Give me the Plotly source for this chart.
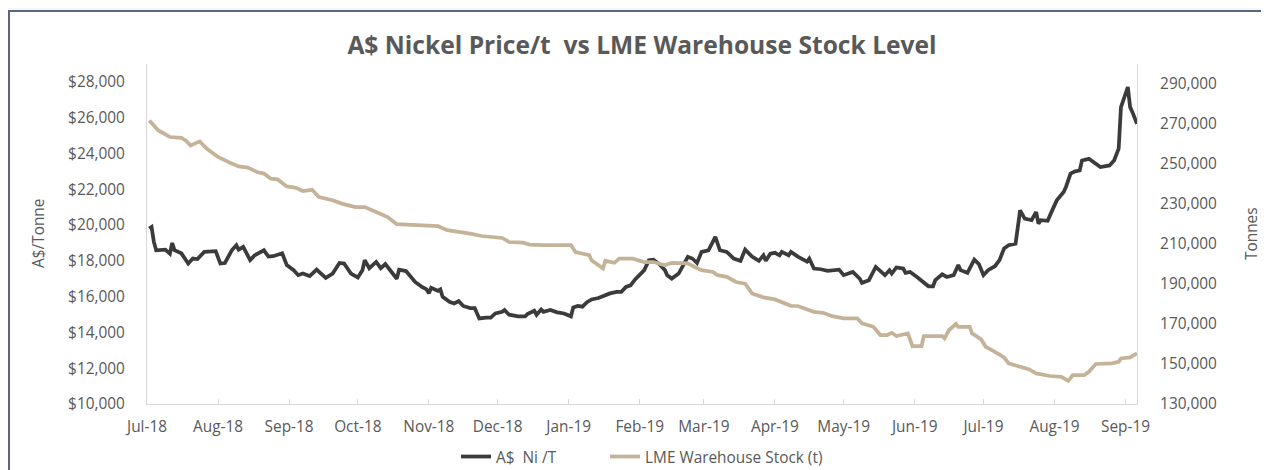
import plotly.graph_objects as go

# ---------------- data ----------------
nickel_dates = [
    "2018-07-02", "2018-07-03", "2018-07-04", "2018-07-05", "2018-07-09", "2018-07-11", "2018-07-12",
    "2018-07-13", "2018-07-16", "2018-07-19", "2018-07-21", "2018-07-23", "2018-07-26", "2018-07-31",
    "2018-08-02", "2018-08-04", "2018-08-07", "2018-08-09", "2018-08-10", "2018-08-12", "2018-08-15",
    "2018-08-17", "2018-08-21", "2018-08-23", "2018-08-25", "2018-08-29", "2018-08-31", "2018-09-03",
    "2018-09-05", "2018-09-07", "2018-09-10", "2018-09-13", "2018-09-17", "2018-09-20", "2018-09-23",
    "2018-09-25", "2018-09-28", "2018-10-01", "2018-10-03", "2018-10-04", "2018-10-06", "2018-10-09",
    "2018-10-11", "2018-10-13", "2018-10-18", "2018-10-19", "2018-10-22", "2018-10-23", "2018-10-26",
    "2018-10-29", "2018-10-31", "2018-11-01", "2018-11-02", "2018-11-05", "2018-11-06", "2018-11-07",
    "2018-11-10", "2018-11-12", "2018-11-14", "2018-11-16", "2018-11-19", "2018-11-21", "2018-11-23",
    "2018-11-26", "2018-11-28", "2018-11-30", "2018-12-03", "2018-12-04", "2018-12-06", "2018-12-10",
    "2018-12-13", "2018-12-14", "2018-12-17", "2018-12-18", "2018-12-20", "2018-12-21", "2018-12-24",
    "2018-12-27", "2018-12-30", "2019-01-02", "2019-01-03", "2019-01-05", "2019-01-07", "2019-01-09",
    "2019-01-11", "2019-01-14", "2019-01-17", "2019-01-19", "2019-01-22", "2019-01-24", "2019-01-26",
    "2019-01-28", "2019-01-30", "2019-02-01", "2019-02-03", "2019-02-05", "2019-02-07", "2019-02-10",
    "2019-02-12", "2019-02-13", "2019-02-15", "2019-02-18", "2019-02-20", "2019-02-22", "2019-02-24",
    "2019-02-26", "2019-02-28", "2019-03-03", "2019-03-06", "2019-03-08", "2019-03-11", "2019-03-14",
    "2019-03-17", "2019-03-19", "2019-03-22", "2019-03-25", "2019-03-27", "2019-03-28", "2019-03-30",
    "2019-04-01", "2019-04-03", "2019-04-04", "2019-04-07", "2019-04-08", "2019-04-11", "2019-04-15",
    "2019-04-16", "2019-04-18", "2019-04-21", "2019-04-24", "2019-04-29", "2019-05-01", "2019-05-05",
    "2019-05-08", "2019-05-09", "2019-05-12", "2019-05-15", "2019-05-19", "2019-05-21", "2019-05-22",
    "2019-05-24", "2019-05-27", "2019-05-28", "2019-05-30", "2019-06-02", "2019-06-05", "2019-06-07",
    "2019-06-09", "2019-06-10", "2019-06-13", "2019-06-15", "2019-06-18", "2019-06-20", "2019-06-21",
    "2019-06-24", "2019-06-27", "2019-06-29", "2019-07-01", "2019-07-03", "2019-07-06", "2019-07-08",
    "2019-07-10", "2019-07-12", "2019-07-15", "2019-07-16", "2019-07-17", "2019-07-19", "2019-07-22",
    "2019-07-24", "2019-07-25", "2019-07-26", "2019-07-29", "2019-07-31", "2019-08-02", "2019-08-05",
    "2019-08-06", "2019-08-08", "2019-08-10", "2019-08-12", "2019-08-13", "2019-08-16", "2019-08-18",
    "2019-08-21", "2019-08-25", "2019-08-27", "2019-08-29", "2019-08-30", "2019-09-02", "2019-09-03",
    "2019-09-04", "2019-09-06",
]
nickel_price = [
    19800, 19890, 19060, 18590, 18630, 18400, 19000,
    18600, 18420, 17850, 18130, 18100, 18500, 18540,
    17850, 17880, 18590, 18870, 18630, 18780, 18040,
    18310, 18590, 18240, 18260, 18420, 17760, 17480,
    17200, 17290, 17150, 17510, 17050, 17290, 17880,
    17850, 17290, 17070, 17480, 18040, 17590, 17940,
    17590, 17820, 17000, 17510, 17430, 17290, 16820,
    16540, 16400, 16180, 16500, 16320, 16400, 15990,
    15710, 15620, 15750, 15480, 15360, 15360, 14780,
    14830, 14830, 15060, 15150, 15250, 14990, 14900,
    14900, 15020, 15210, 14990, 15280, 15150, 15250,
    15120, 15060, 14900, 15400, 15480, 15440, 15690,
    15840, 15920, 16080, 16180, 16270, 16270, 16540,
    16630, 16960, 17200, 17480, 18040, 18070, 17760,
    17480, 17200, 17010, 17290, 17760, 18220, 18130,
    17880, 18500, 18590, 19340, 18590, 18500, 18130,
    18000, 18630, 18240, 18000, 18310, 18000, 18400,
    18450, 18310, 18500, 18310, 18500, 18240, 17960,
    18130, 17570, 17530, 17440, 17510, 17200, 17380,
    17010, 16770, 16920, 17660, 17200, 17480, 17290,
    17630, 17570, 17330, 17380, 17100, 16820, 16580,
    16580, 16920, 17250, 17100, 17200, 17760, 17480,
    17330, 18070, 17820, 17200, 17480, 17700, 18040,
    18690, 18870, 18960, 19890, 20820, 20360, 20270,
    20730, 20080, 20270, 20240, 20820, 21380, 21850,
    22130, 22870, 23000, 23050, 23610, 23700, 23520,
    23240, 23330, 23610, 24270, 26590, 27710, 26590,
    26310, 25660,
]

stock_dates = [
    "2018-07-02", "2018-07-04", "2018-07-06", "2018-07-08", "2018-07-11", "2018-07-16", "2018-07-18",
    "2018-07-20", "2018-07-24", "2018-07-27", "2018-07-30", "2018-08-01", "2018-08-07", "2018-08-10",
    "2018-08-14", "2018-08-18", "2018-08-21", "2018-08-24", "2018-08-27", "2018-08-31", "2018-09-04",
    "2018-09-07", "2018-09-11", "2018-09-14", "2018-09-20", "2018-09-24", "2018-09-30", "2018-10-04",
    "2018-10-09", "2018-10-14", "2018-10-18", "2018-10-24", "2018-11-05", "2018-11-09", "2018-11-16",
    "2018-11-19", "2018-11-24", "2018-12-03", "2018-12-06", "2018-12-12", "2018-12-15", "2018-12-21",
    "2019-01-02", "2019-01-04", "2019-01-10", "2019-01-11", "2019-01-16", "2019-01-17", "2019-01-21",
    "2019-01-23", "2019-01-29", "2019-02-03", "2019-02-07", "2019-02-12", "2019-02-15", "2019-02-22",
    "2019-02-25", "2019-02-28", "2019-03-05", "2019-03-07", "2019-03-11", "2019-03-15", "2019-03-19",
    "2019-03-22", "2019-03-27", "2019-04-01", "2019-04-08", "2019-04-11", "2019-04-18", "2019-04-22",
    "2019-04-26", "2019-05-01", "2019-05-07", "2019-05-09", "2019-05-14", "2019-05-17", "2019-05-20",
    "2019-05-22", "2019-05-24", "2019-05-27", "2019-05-29", "2019-05-31", "2019-06-04", "2019-06-05",
    "2019-06-13", "2019-06-14", "2019-06-16", "2019-06-19", "2019-06-20", "2019-06-25", "2019-06-26",
    "2019-06-30", "2019-07-02", "2019-07-06", "2019-07-10", "2019-07-12", "2019-07-17", "2019-07-21",
    "2019-07-24", "2019-07-30", "2019-08-04", "2019-08-07", "2019-08-09", "2019-08-14", "2019-08-16",
    "2019-08-19", "2019-08-26", "2019-08-29", "2019-08-30", "2019-09-03", "2019-09-06",
]
stock_tonnes = [
    271800, 269300, 266800, 265500, 263500, 263100, 261600,
    259300, 261300, 257700, 255500, 253500, 250200, 248800,
    248200, 246000, 245200, 242700, 242300, 238800, 238100,
    236500, 237100, 233500, 231900, 230200, 228500, 228500,
    226000, 223500, 219900, 219700, 218900, 216900, 216000,
    215200, 214000, 213000, 211000, 210700, 209700, 209400,
    209400, 206000, 204400, 201900, 197800, 201600, 200600,
    202700, 202700, 201000, 201000, 199400, 200600, 200300,
    198500, 196900, 196000, 194400, 193600, 191000, 190200,
    185300, 183300, 182300, 179100, 179000, 176100, 175600,
    173900, 172800, 172800, 170300, 168600, 164500, 164500,
    165600, 164000, 164500, 165300, 159000, 159000, 164000,
    164000, 162800, 167000, 170000, 168600, 168600, 165300,
    162300, 158600, 156100, 153300, 150300, 148600, 147300,
    145300, 144000, 143600, 141600, 144500, 144500, 146100,
    150000, 150300, 151100, 152800, 153300, 155300,
]

series_names = ["A$\u00a0 Ni /T", "LME Warehouse Stock (t)"]
title_text = "A$ Nickel Price/t\u00a0 vs LME Warehouse Stock Level"
left_title = "A$/Tonne"
right_title = "Tonnes"

left_ticks = [10000, 12000, 14000, 16000, 18000, 20000, 22000, 24000, 26000, 28000]
left_ticktext = ["$" + format(v, ",") for v in left_ticks]
right_ticks = [130000, 150000, 170000, 190000, 210000, 230000, 250000, 270000, 290000]
right_ticktext = [format(v, ",") for v in right_ticks]

# ---------------- styling ----------------
FONT = "Open Sans"
TXT = "#595959"
AXIS = "#d9d9d9"
DARK = "#3b3b3b"
TAN = "#c4b398"
FS = 15.4

# the page has an 8px body margin, so the figure is drawn 8px in from the window edge
W, H = 1261, 462

fig = go.Figure()
fig.add_trace(go.Scatter(
    x=nickel_dates, y=nickel_price, name=series_names[0], mode="lines",
    line=dict(color=DARK, width=3.75), yaxis="y", legendwidth=104,
))
fig.add_trace(go.Scatter(
    x=stock_dates, y=stock_tonnes, name=series_names[1], mode="lines",
    line=dict(color=TAN, width=3.75), yaxis="y2",
))

fig.update_layout(
    width=W, height=H,
    margin=dict(l=139, r=132, t=56, b=66, autoexpand=False),
    paper_bgcolor="#f6f7f9",
    plot_bgcolor="white",
    font=dict(family=FONT, size=FS, color=TXT),
    title=dict(text="<b>" + title_text + "</b>", x=0.5, xref="paper", xanchor="center",
               y=1 - 37 / H, yanchor="middle",
               font=dict(family=FONT, size=24.6, color=TXT)),
    showlegend=True,
    legend=dict(orientation="h", x=0.5, xanchor="center",
                yref="container", y=(H - 449) / H, yanchor="middle",
                font=dict(family=FONT, size=FS, color=TXT), bgcolor="rgba(0,0,0,0)",
                traceorder="normal"),
    xaxis=dict(
        type="date", range=["2018-07-01", "2019-09-06"],
        tick0="2018-07-01", dtick="M1", tickformat="%b-%y",
        showline=True, linecolor=AXIS, linewidth=1,
        ticks="inside", ticklen=5, tickcolor=AXIS, tickwidth=1,
        showgrid=False, zeroline=False, ticklabelstandoff=9,
        tickfont=dict(family=FONT, size=FS, color=TXT),
    ),
    yaxis=dict(
        range=[10000, 29000], tickmode="array", tickvals=left_ticks, ticktext=left_ticktext,
        showline=True, linecolor=AXIS, linewidth=1, ticks="",
        showgrid=False, zeroline=False, ticklabelstandoff=18,
        tickfont=dict(family=FONT, size=FS, color=TXT),
    ),
    yaxis2=dict(
        range=[130000, 300000], tickmode="array", tickvals=right_ticks, ticktext=right_ticktext,
        overlaying="y", side="right",
        showline=True, linecolor=AXIS, linewidth=1, ticks="",
        showgrid=False, zeroline=False, ticklabelstandoff=19,
        tickfont=dict(family=FONT, size=FS, color=TXT),
    ),
    shapes=[
        dict(type="rect", xref="paper", yref="paper",
             x0=(9 - 147) / 990, x1=(1290 - 147) / 990,
             y0=(404 - 490) / 340, y1=(404 - 11) / 340,
             line=dict(color="#5b6480", width=2), fillcolor="white", layer="below"),
    ],
    annotations=[
        dict(text=left_title, xref="paper", yref="paper", x=(38 - 147) / 990, y=0.5,
             textangle=-90, showarrow=False, xanchor="center", yanchor="middle",
             font=dict(family=FONT, size=FS, color=TXT)),
        dict(text=right_title, xref="paper", yref="paper", x=(1251 - 147) / 990, y=0.5,
             textangle=-90, showarrow=False, xanchor="center", yanchor="middle",
             font=dict(family=FONT, size=FS, color=TXT)),
    ],
)

fig.write_html("out.html")
